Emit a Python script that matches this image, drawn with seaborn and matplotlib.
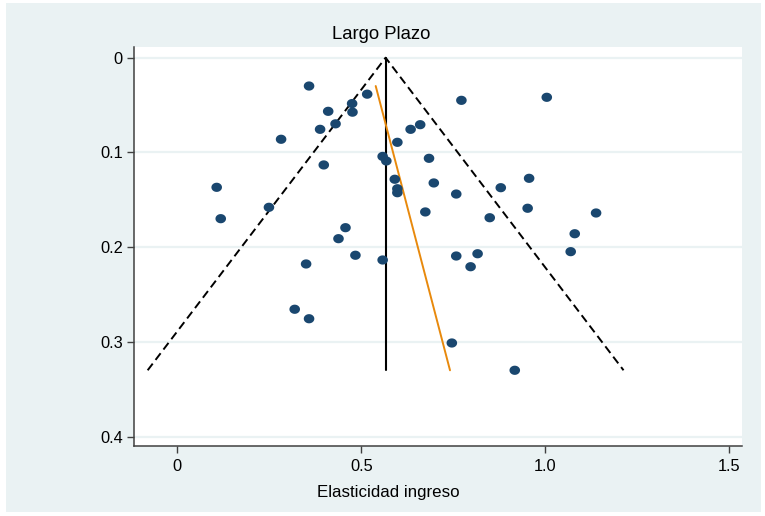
import numpy as np
import pandas as pd
import matplotlib
matplotlib.use("Agg")
import matplotlib.pyplot as plt
from matplotlib.patches import Rectangle
from matplotlib.path import Path
import seaborn as sns

# Long-run income elasticity reported by each study and its standard error
elasticidad = [0.358, 0.516, 0.475, 0.476, 0.410, 0.430, 0.388, 0.282, 0.598,
               0.558, 0.568, 0.398, 0.107, 0.591, 0.598, 0.598, 0.249, 0.118,
               0.457, 0.438, 0.634, 0.660, 0.772, 1.004, 0.684, 0.697, 0.758,
               0.956, 0.879, 0.674, 0.849, 0.952, 1.138, 1.080, 0.350, 0.484,
               0.558, 0.319, 0.358, 1.069, 0.758, 0.816, 0.797, 0.746, 0.917]
error_std = [0.0299, 0.0385, 0.0484, 0.0575, 0.0566, 0.0698, 0.0756, 0.0861,
             0.0893, 0.1042, 0.1090, 0.1132, 0.1368, 0.1283, 0.1383, 0.1425,
             0.1579, 0.1699, 0.1794, 0.1910, 0.0756, 0.0707, 0.0450, 0.0418,
             0.1062, 0.1322, 0.1439, 0.1273, 0.1372, 0.1628, 0.1689, 0.1589,
             0.1639, 0.1858, 0.2177, 0.2085, 0.2135, 0.2655, 0.2755, 0.2047,
             0.2093, 0.2069, 0.2206, 0.3011, 0.3299]

# Pooled estimate (funnel centre) and Egger regression of estimate on SE
efecto_combinado = 0.566
z_critico = 1.96
egger_constante = 0.519
egger_pendiente = 0.673

x_ticks = [0, 0.5, 1.0, 1.5]
x_tick_labels = ["0", "0.5", "1.0", "1.5"]
y_ticks = [0, 0.1, 0.2, 0.3, 0.4]
y_tick_labels = ["0", "0.1", "0.2", "0.3", "0.4"]

titulo = "Largo Plazo"
etiqueta_x = "Elasticidad ingreso"

df = pd.DataFrame({"elasticidad": elasticidad, "se": error_std})

sns.set_theme(style="white")
plt.rcParams["font.family"] = ["Liberation Sans", "DejaVu Sans"]

W, H = 765, 516
fig = plt.figure(figsize=(W / 100, H / 100), dpi=100)
fig.patch.set_facecolor("white")
bg = "#eaf2f3"
fig.patches.append(Rectangle((6 / W, 4 / H), (W - 10) / W, (H - 7) / H,
                             transform=fig.transFigure, facecolor=bg,
                             edgecolor="none", zorder=-10))

ax = fig.add_axes([134 / W, 1 - 445.7 / H, (741.7 - 134) / W, (445.7 - 46.7) / H])
ax.set_facecolor("white")

# horizontal grid
for yt in y_ticks:
    ax.axhline(yt, color=bg, lw=1.6, zorder=0)

se_max = df["se"].max()
se_min = df["se"].min()

# pseudo 95% confidence funnel
ax.plot([efecto_combinado - z_critico * se_max, efecto_combinado,
         efecto_combinado + z_critico * se_max],
        [se_max, 0, se_max], color="black", lw=1.4,
        dashes=(4.3, 2.4), zorder=2)
# pooled estimate
ax.plot([efecto_combinado, efecto_combinado], [0, se_max],
        color="black", lw=1.5, zorder=2)
# Egger line
se_rango = np.array([se_min, se_max])
ax.plot(egger_constante + egger_pendiente * se_rango, se_rango,
        color="#e8890c", lw=1.4, zorder=2)

# slightly wide oval marker
t = np.linspace(0, 2 * np.pi, 60)
oval = Path(np.column_stack([np.cos(t), 0.87 * np.sin(t)]), closed=True)
sns.scatterplot(data=df, x="elasticidad", y="se", ax=ax, marker=oval,
                s=58, color="#1a476f", edgecolor="none", linewidth=0,
                zorder=3, legend=False)

ax.set_xlim(-0.1177, 1.5337)
ax.set_ylim(0.4095, -0.0116)
ax.set_xticks(x_ticks)
ax.set_xticklabels(x_tick_labels)
ax.set_yticks(y_ticks)
ax.set_yticklabels(y_tick_labels)
ax.set_xlabel("")
ax.set_ylabel("")

for side in ("top", "right"):
    ax.spines[side].set_visible(False)
for side in ("left", "bottom"):
    ax.spines[side].set_color("#404040")
    ax.spines[side].set_linewidth(1.1)

ax.tick_params(axis="both", which="major", direction="out", length=5,
               width=1, color="#404040", labelsize=11.8, labelcolor="black")
ax.tick_params(axis="x", pad=4.5, bottom=True)
ax.tick_params(axis="y", pad=3, left=True)

fig.text(381 / W, 1 - 39.3 / H, titulo, ha="center", va="baseline",
         fontsize=13.3, color="black")
fig.text(388 / W, 1 - 496.7 / H, etiqueta_x, ha="center", va="baseline",
         fontsize=12.2, color="black")

fig.savefig("out.png", dpi=100, facecolor=fig.get_facecolor())
